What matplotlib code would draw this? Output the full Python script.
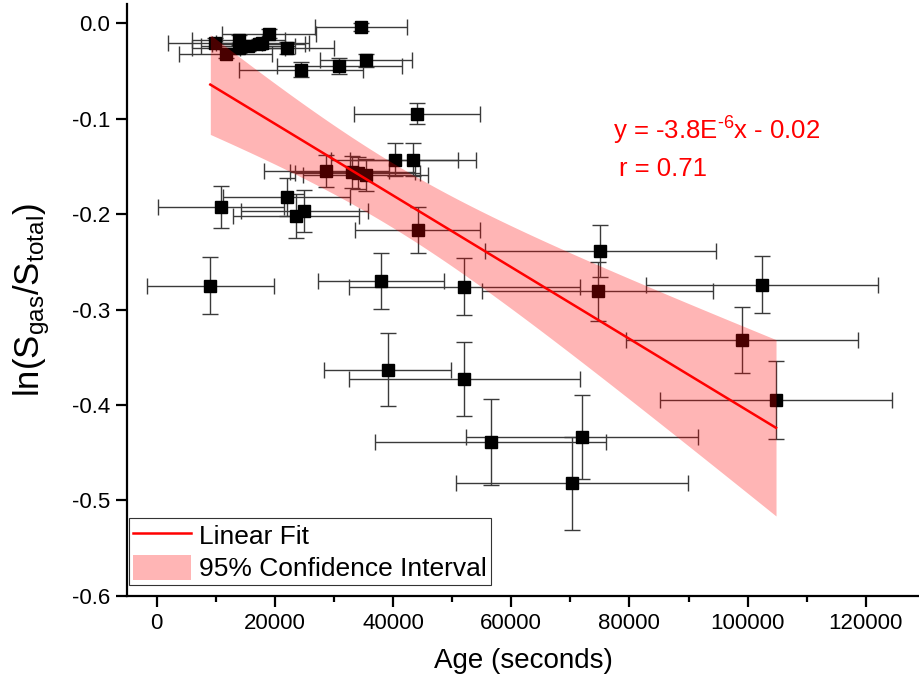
import numpy as np
import matplotlib
matplotlib.use('Agg')
import matplotlib.pyplot as plt

plt.rcParams['font.family'] = ['Liberation Sans', 'DejaVu Sans']
plt.rcParams['mathtext.default'] = 'regular'
plt.rcParams['axes.unicode_minus'] = False

# age (s), ln(S_gas/S_total), and their errors
age = [34600, 19000, 9900, 11700, 13900, 13900, 15500, 17300, 17900, 22100,
       24400, 30900, 35500, 44100, 40300, 43400, 28700, 33100, 34000, 35400,
       22000, 10900, 23600, 25000, 44200, 9100, 38000, 52100, 39100, 52100,
       56500, 72000, 70300, 75100, 74600, 102400, 99000, 104800]
ln_ratio = [-0.004, -0.011, -0.021, -0.032, -0.018, -0.026, -0.024, -0.022, -0.021, -0.026,
            -0.049, -0.045, -0.039, -0.095, -0.143, -0.143, -0.155, -0.156, -0.157, -0.159,
            -0.182, -0.193, -0.202, -0.197, -0.217, -0.275, -0.270, -0.276, -0.363, -0.373,
            -0.439, -0.434, -0.482, -0.239, -0.281, -0.274, -0.332, -0.395]
age_err = [7800, 7900, 7900, 7900, 7900, 7900, 7900, 7900, 7900, 7900,
           10500, 10600, 7800, 10700, 10700, 10700, 10600, 10600, 10600, 10600,
           10700, 10700, 10600, 10700, 10600, 10700, 10700, 19600, 10700, 19600,
           19600, 19600, 19600, 19600, 19600, 19600, 19600, 19600]
ln_err = [0.004, 0.005, 0.005, 0.005, 0.005, 0.005, 0.005, 0.005, 0.005, 0.006,
          0.008, 0.008, 0.007, 0.011, 0.017, 0.017, 0.017, 0.017, 0.017, 0.017,
          0.020, 0.022, 0.023, 0.022, 0.024, 0.030, 0.029, 0.030, 0.038, 0.039,
          0.045, 0.044, 0.049, 0.027, 0.031, 0.030, 0.035, 0.041]

x = np.array(age, dtype=float)
y = np.array(ln_ratio)

# linear fit and 95% confidence band
slope, icpt = np.polyfit(x, y, 1)
n = len(x)
resid = y - (slope * x + icpt)
s = np.sqrt(np.sum(resid ** 2) / (n - 2))
sxx = np.sum((x - x.mean()) ** 2)
t95 = 2.028
xf = np.linspace(x.min(), x.max(), 200)
yf = slope * xf + icpt
half = t95 * s * np.sqrt(1 / n + (xf - x.mean()) ** 2 / sxx)

fig = plt.figure(figsize=(9.2, 6.83), dpi=100)
ax = fig.add_axes([0.138, 0.1274, 0.861, 0.8668])

ax.errorbar(x, y, xerr=age_err, yerr=ln_err, fmt='s', color='black', ms=8.5,
            ecolor='#3a3a3a', elinewidth=1, capsize=6, capthick=1, zorder=2)
band = ax.fill_between(xf, yf - half, yf + half, color='#ff0000', alpha=0.29,
                       lw=0, zorder=3, label='95% Confidence Interval')
line, = ax.plot(xf, yf, color='#ff0000', lw=1.8, zorder=4, label='Linear Fit')

ax.text(0.613, 0.785, 'y = -3.8E$^{\u2010 6}$x - 0.02', transform=ax.transAxes,
        color='#ff0000', fontsize=18.5, va='center')
ax.text(0.621, 0.721, 'r = 0.71', transform=ax.transAxes,
        color='#ff0000', fontsize=18.5, va='center')

ax.set_xlim(-5000, 129000)
ax.set_ylim(-0.6, 0.02)
ax.set_xticks(np.arange(0, 120001, 20000))
ax.set_xticks(np.arange(10000, 120001, 20000), minor=True)
yt = np.round(np.arange(-0.6, 0.01, 0.1), 1) + 0.0
ax.set_yticks(yt)
ax.set_yticklabels(['%.1f' % v if abs(v) > 1e-9 else '0.0' for v in yt])

for side in ['top', 'right']:
    ax.spines[side].set_visible(False)
for side in ['left', 'bottom']:
    ax.spines[side].set_linewidth(1.6)
ax.tick_params(which='major', length=8, width=1.6, labelsize=16, pad=4)
ax.tick_params(which='minor', length=4, width=1.6)

ax.set_xlabel('Age (seconds)', fontsize=20, labelpad=10)
ax.set_ylabel('ln(S$_{gas}$/S$_{total}$)', fontsize=25, labelpad=14)

leg = ax.legend(handles=[line, band], loc='lower left', bbox_to_anchor=(0.003, 0.018),
                borderaxespad=0, fontsize=19, frameon=True, fancybox=False,
                framealpha=1, edgecolor='#333333', handlelength=2.2, handleheight=1.1,
                labelspacing=0.22, handletextpad=0.3, borderpad=0.15)
leg.get_frame().set_linewidth(0.8)

fig.savefig('out.png', dpi=100)
